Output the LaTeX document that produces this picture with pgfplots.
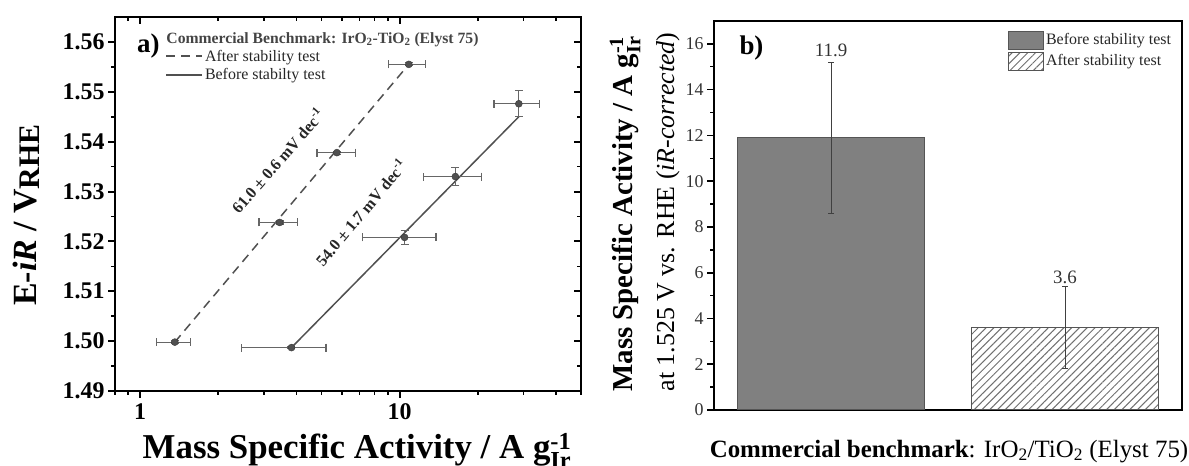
\documentclass[border=0pt]{standalone}
\usepackage{fontspec}
\setmainfont{Liberation Serif}
\usepackage{amsmath}
\usepackage{graphicx}
\usepackage{pgfplots}
\pgfplotsset{compat=1.18}
\usetikzlibrary{patterns.meta}

\definecolor{datagray}{HTML}{505050}
\definecolor{errgray}{HTML}{666666}
\definecolor{bargray}{HTML}{808080}
\definecolor{bardark}{HTML}{555555}
\definecolor{hatchgray}{HTML}{707070}
\definecolor{txtgray}{HTML}{444444}

\begin{document}
\begin{tikzpicture}[x=1bp,y=1bp]
\path[use as bounding box] (0bp,0bp) rectangle (1189bp,466bp);

% ---------------- panel a: Tafel plot ----------------
% mirror ticks on top and right, pointing inward
\begin{axis}[
  at={(115bp,75bp)}, anchor=south west, scale only axis,
  width=466bp, height=374bp,
  xmode=log, xmin=0.8, xmax=50, ymin=1.49, ymax=1.565,
  xtick={1,10}, xticklabels={}, yticklabels={},
  minor xtick={0.8,0.9,2,3,4,5,6,7,8,9,20,30,40,50},
  ytick={1.49,1.50,1.51,1.52,1.53,1.54,1.55,1.56},
  minor ytick={1.495,1.505,1.515,1.525,1.535,1.545,1.555},
  major tick length=7bp, minor tick length=4bp,
  major tick style={line width=2bp, black},
  minor tick style={line width=1.6bp, black},
  axis line style={line width=2.2bp, black},
  xtick pos=right, ytick pos=right, tick align=inside]
\end{axis}
\begin{axis}[
  at={(115bp,75bp)}, anchor=south west, scale only axis,
  width=466bp, height=374bp,
  xmode=log, xmin=0.8, xmax=50, ymin=1.49, ymax=1.565,
  xtick={1,10}, xticklabels={1,10},
  minor xtick={0.8,0.9,2,3,4,5,6,7,8,9,20,30,40,50},
  ytick={1.49,1.50,1.51,1.52,1.53,1.54,1.55,1.56},
  minor ytick={1.495,1.505,1.515,1.525,1.535,1.545,1.555},
  major tick length=7bp, minor tick length=4bp,
  major tick style={line width=2bp, black},
  minor tick style={line width=1.6bp, black},
  axis line style={line width=2.2bp, black},
  xtick pos=left, ytick pos=left, tick align=outside,
  /pgf/number format/assume math mode=true,
  yticklabel style={/pgf/number format/.cd, fixed, fixed zerofill, precision=2},
  ticklabel style={font=\bfseries\fontsize{24}{26}\selectfont},
  xticklabel style={yshift=-2bp},
  legend style={at={(rel axis cs:0.108,0.918)}, anchor=north west,
    draw=none, fill=none, inner sep=0pt,
    font=\fontsize{16}{17}\selectfont, text=black!85,
    row sep=2bp, cells={anchor=west}},
  legend image code/.code={\draw[#1] (0bp,0bp) -- (36bp,0bp);},
]
\addplot[datagray, line width=1.5bp, dash pattern=on 9bp off 6bp]
  coordinates {(1.36,1.4998) (10.85,1.5555)};
\addlegendentry{After stability test}
\addplot[datagray, line width=1.5bp]
  coordinates {(3.83,1.4987) (28.8,1.5450)};
\addlegendentry{Before stabilty test}

% after stability test
\addplot[forget plot, only marks, mark=*, mark size=3.5bp,
  mark options={fill=datagray, draw=datagray!70!black},
  error bars/.cd, x dir=both, x explicit, y dir=both, y explicit,
  error bar style={line width=1.2bp, errgray},
  error mark options={rotate=90, line width=1.2bp, errgray, mark size=4bp}]
  coordinates {
    (1.36,1.4998)  += (0.20,0.0003) -= (0.20,0.0003)
    (3.45,1.5238)  += (0.58,0.0003) -= (0.58,0.0003)
    (5.73,1.5378)  += (1.01,0.0003) -= (0.93,0.0003)
    (10.85,1.5555) += (1.75,0.0003) -= (1.79,0.0003)
  };
% before stability test
\addplot[forget plot, only marks, mark=*, mark size=3.5bp,
  mark options={fill=datagray, draw=datagray!70!black},
  error bars/.cd, x dir=both, x explicit, y dir=both, y explicit,
  error bar style={line width=1.2bp, errgray},
  error mark options={rotate=90, line width=1.2bp, errgray, mark size=4bp}]
  coordinates {
    (3.83,1.4987)  += (1.37,0.0002) -= (1.37,0.0002)
    (10.45,1.5208) += (3.35,0.0014) -= (3.26,0.0014)
    (16.4,1.5330)  += (4.3,0.0018)  -= (4.0,0.0018)
    (28.8,1.5476)  += (5.7,0.0026)  -= (5.7,0.0026)
  };

\node[anchor=base west, font=\bfseries\fontsize{27}{28}\selectfont]
  at (rel axis cs:0.040,0.905) {a)};
\node[anchor=west, text=txtgray, inner sep=0pt]
  at (rel axis cs:0.110,0.940)
  {\resizebox{312bp}{!}{\bfseries\fontsize{16}{17}\selectfont Commercial Benchmark: IrO\textsubscript{2}-TiO\textsubscript{2} (Elyst 75)}};
\node[rotate=49, text=black!85, inner sep=0pt]
  at (axis cs:3.38,1.5362)
  {\resizebox{132bp}{!}{\bfseries\fontsize{16}{17}\selectfont 61.0 ± 0.6 mV dec\textsuperscript{-1}}};
\node[rotate=50, text=black!85, inner sep=0pt]
  at (axis cs:7.07,1.5258)
  {\resizebox{132bp}{!}{\bfseries\fontsize{16}{17}\selectfont 54.0 ± 1.7 mV dec\textsuperscript{-1}}};
\end{axis}

\node[rotate=90, font=\bfseries\fontsize{34}{36}\selectfont]
  at (26bp,251bp) {E-\textit{iR} / V\raisebox{-0.22ex}{\fontsize{30}{30}\selectfont RHE}};
\node[anchor=base, font=\bfseries\fontsize{35}{36}\selectfont]
  at (357bp,8bp) {Mass Specific Activity / A g$^{\text{-1}}_{\text{Ir}}$};

% ---------------- panel b: activity at 1.525 V ----------------
\begin{axis}[
  at={(714bp,56bp)}, anchor=south west, scale only axis,
  width=468bp, height=389bp,
  xmin=0.5, xmax=2.5, ymin=0, ymax=17,
  xtick=\empty,
  ytick={0,2,4,6,8,10,12,14,16},
  minor ytick={1,3,5,7,9,11,13,15},
  ytick pos=left, tick align=outside,
  major tick length=7bp, minor tick length=4bp,
  major tick style={line width=1.6bp, black},
  minor tick style={line width=1.4bp, black},
  axis line style={line width=2.2bp, black},
  /pgf/number format/assume math mode=true,
  yticklabel style={font=\fontsize{18}{20}\selectfont, text=black!80},
  legend style={at={(rel axis cs:0.628,0.976)}, anchor=north west,
    draw=none, fill=none, inner sep=0pt,
    font=\fontsize{16}{17}\selectfont, text=black!85,
    row sep=2bp, cells={anchor=west}},
  legend image code/.code={\draw[#1, line width=1bp] (0bp,-9bp) rectangle (35bp,9bp);},
]
\addplot[ybar, bar width=0.8, bar shift=0pt, fill=bargray, draw=bardark, line width=1bp,
  error bars/.cd, y dir=both, y explicit,
  error bar style={line width=0.8bp, black!75},
  error mark options={rotate=90, line width=0.8bp, black!75, mark size=3bp}]
  coordinates {(1,11.9) +- (0,3.3)};
\addlegendentry{Before stability test}
\addplot[ybar, bar width=0.8, bar shift=0pt,
  pattern={Lines[angle=45, distance=5.5bp, line width=1bp]}, pattern color=hatchgray,
  draw=bardark, line width=1bp,
  error bars/.cd, y dir=both, y explicit,
  error bar style={line width=0.8bp, black!75},
  error mark options={rotate=90, line width=0.8bp, black!75, mark size=3bp}]
  coordinates {(2,3.6) +- (0,1.8)};
\addlegendentry{After stability test}

\node[font=\fontsize{19}{20}\selectfont, text=black!80] at (axis cs:1,15.7) {11.9};
\node[font=\fontsize{19}{20}\selectfont, text=black!80] at (axis cs:2,5.8) {3.6};
\node[anchor=base west, font=\bfseries\fontsize{27}{28}\selectfont]
  at (rel axis cs:0.047,0.915) {b)};
\end{axis}

\node[rotate=90, font=\bfseries\fontsize{29}{30}\selectfont]
  at (625bp,252bp) {Mass Specific Activity / A g$^{\text{-1}}_{\text{Ir}}$};
\node[rotate=90, font=\fontsize{26}{27}\selectfont]
  at (668bp,254bp) {at 1.525 V vs. RHE (\textit{iR-corrected})};
\node[anchor=base, font=\fontsize{25}{26}\selectfont]
  at (949bp,9bp) {\textbf{Commercial benchmark}: IrO\textsubscript{2}/TiO\textsubscript{2} (Elyst 75)};
\end{tikzpicture}
\end{document}
